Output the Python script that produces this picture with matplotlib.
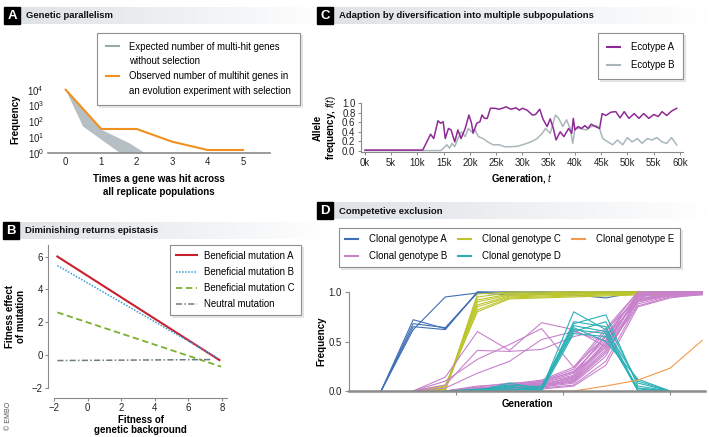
import numpy as np
import matplotlib
matplotlib.use("Agg")
import matplotlib.pyplot as plt
from matplotlib.colors import LinearSegmentedColormap
from matplotlib.lines import Line2D
from matplotlib.patches import Rectangle

plt.rcParams['font.family'] = ['Liberation Sans', 'DejaVu Sans']
plt.rcParams['mathtext.fontset'] = 'custom'
plt.rcParams['mathtext.rm'] = 'Liberation Sans'
plt.rcParams['mathtext.it'] = 'Liberation Sans:italic'
plt.rcParams['mathtext.bf'] = 'Liberation Sans:bold'

N = np.nan

# ---- panel A: genetic parallelism
hits = [0, 1, 2, 3, 4, 5]
observed = [1e4, 33, 33, 5.2, 1.55, 1.55]
# outline of the expected (no selection) band
expected_x = [0, 0.49, 1.53, 2.23, 1.81, 1.0, 0]
expected_y = [1e4, 47, 1, 1, 4, 30, 1e4]

# ---- panel B: diminishing returns epistasis
bg_A = [-1.8, 7.85]
mut_A = [6.0, -0.3]
bg_B = [-1.8, 7.7]
mut_B = [5.45, -0.15]
bg_C = [-1.8, 7.95]
mut_C = [2.6, -0.7]
bg_N = [-1.8, 7.4]
mut_N = [-0.33, -0.27]

# ---- panel C: ecotypes (generation in thousands)
ecoA_k = [0, 11, 12.5, 13.1, 13.9, 14.4, 14.9, 15.3, 15.9, 16.4, 17.1, 17.7,
          18.3, 19.1, 19.8, 20.3, 20.6, 21.3, 21.9, 22.3, 22.8, 23.3, 23.9,
          24.7, 25.6, 26.9, 27.8, 28.8, 29.4, 30.0, 30.9, 31.9, 32.5, 33.3,
          33.9, 34.7, 35.3, 35.9, 36.4, 37.2, 37.9, 38.8, 39.4, 39.7, 40.0,
          40.6, 41.3, 41.9, 42.5, 43.1, 43.9, 44.7, 45.2, 45.9, 46.9, 47.8,
          48.6, 49.4, 50.3, 51.3, 52.2, 53.1, 54.1, 55.0, 55.9, 56.6, 57.5,
          58.4, 59.4]
ecoA_f = [0.02, 0.02, 0.35, 0.26, 0.63, 0.58, 0.61, 0.26, 0.47, 0.44, 0.19,
          0.44, 0.26, 0.47, 0.75, 0.58, 0.37, 0.58, 0.61, 0.75, 0.68, 0.68,
          0.89, 0.89, 0.87, 0.92, 0.87, 0.90, 0.85, 0.89, 0.85, 0.75, 0.76,
          0.87, 0.67, 0.51, 0.67, 0.47, 0.23, 0.40, 0.30, 0.47, 0.37, 0.68,
          0.44, 0.51, 0.47, 0.53, 0.47, 0.56, 0.51, 0.47, 0.78, 0.74, 0.81,
          0.82, 0.69, 0.82, 0.68, 0.78, 0.68, 0.78, 0.68, 0.76, 0.72, 0.82,
          0.74, 0.83, 0.89]
ecoB_k = [0, 14.5, 15.6, 16.1, 16.6, 17.1, 17.7, 18.4, 19.1, 19.7, 20.3, 20.9,
          21.6, 22.5, 23.4, 24.4, 25.6, 26.6, 27.8, 29.1, 30.3, 31.6, 32.8,
          33.8, 34.4, 35.3, 36.3, 36.9, 37.7, 38.4, 39.1, 39.6, 40.0, 40.9,
          42.2, 43.1, 44.1, 44.7, 45.3, 46.3, 47.2, 48.1, 49.1, 50.0, 50.9,
          51.9, 52.8, 53.8, 54.7, 55.6, 56.6, 57.5, 58.4, 59.4]
ecoB_f = [0.01, 0.01, 0.13, 0.06, 0.16, 0.09, 0.26, 0.40, 0.30, 0.47, 0.40,
          0.45, 0.30, 0.26, 0.19, 0.13, 0.13, 0.09, 0.09, 0.10, 0.14, 0.19,
          0.26, 0.37, 0.47, 0.37, 0.75, 0.68, 0.51, 0.65, 0.47, 0.16, 0.47,
          0.47, 0.44, 0.51, 0.53, 0.47, 0.26, 0.19, 0.13, 0.23, 0.13, 0.28,
          0.19, 0.26, 0.16, 0.26, 0.23, 0.28, 0.19, 0.16, 0.28, 0.13]
gen_ticks = [0, 5, 10, 15, 20, 25, 30, 35, 40, 45, 50, 55, 60]

# ---- panel D: competitive exclusion (sampling points 1..11)
t_gen = [1, 2, 3, 4, 5, 6, 7, 8, 9, 10, 11]
geno_A = [
    [0, 0.72, 0.63, 1.0, 1.0, 0.99, 1.0, 1.0, 1.0, 1.0, 1.0],
    [0, 0.68, 0.64, 0.99, 1.0, 1.0, 0.99, 1.0, 1.0, 1.0, 1.0],
    [0, 0.65, 0.62, 1.0, 0.99, 1.0, 1.0, 0.99, 1.0, 1.0, 1.0],
    [0, 0.62, 0.95, 0.99, 0.97, 0.98, 0.97, 0.94, 1.0, 1.0, 1.0],
]
geno_B = [
    [N, 0, 0.14, 0.60, 0.41, 0.69, 0.62, 0.45, 0.96, 1.0, 1.0],
    [N, 0, 0.06, 0.41, 0.40, 0.42, 0.55, 0.62, 0.93, 0.98, 0.99],
    [N, 0, 0.10, 0.32, 0.47, 0.63, 0.24, 0.55, 0.90, 0.97, 1.0],
    [N, 0, 0.03, 0.18, 0.30, 0.52, 0.60, 0.50, 0.94, 0.96, 0.98],
    [N, N, 0, 0.01, 0.03, 0.05, 0.12, 0.45, 0.98, 1.0, 1.0],
    [N, N, 0, 0.02, 0.05, 0.08, 0.18, 0.55, 0.97, 0.99, 1.0],
    [N, N, 0, 0.00, 0.02, 0.04, 0.08, 0.35, 0.95, 1.0, 1.0],
    [N, N, 0, 0.03, 0.06, 0.10, 0.22, 0.60, 1.0, 1.0, 0.99],
    [N, N, 0, 0.01, 0.04, 0.06, 0.15, 0.50, 0.93, 0.98, 1.0],
    [N, N, 0, 0.02, 0.03, 0.07, 0.10, 0.40, 0.92, 0.97, 0.99],
    [N, N, 0, 0.04, 0.08, 0.09, 0.20, 0.52, 0.99, 1.0, 1.0],
    [N, N, 0, 0.01, 0.02, 0.03, 0.06, 0.30, 0.88, 0.96, 0.98],
    [N, N, 0, 0.02, 0.05, 0.06, 0.14, 0.47, 0.96, 0.99, 1.0],
    [N, N, 0, 0.03, 0.04, 0.05, 0.09, 0.38, 0.90, 0.97, 1.0],
    [N, N, 0, 0.05, 0.07, 0.11, 0.24, 0.63, 1.0, 1.0, 1.0],
    [N, N, 0, 0.01, 0.03, 0.04, 0.11, 0.42, 0.86, 0.95, 0.97],
    [N, N, 0, 0.02, 0.06, 0.08, 0.16, 0.57, 0.97, 1.0, 0.99],
    [N, N, 0, 0.00, 0.01, 0.02, 0.05, 0.26, 0.85, 0.94, 0.98],
    [N, N, 0, 0.03, 0.05, 0.07, 0.13, 0.49, 0.95, 0.99, 1.0],
    [N, N, 0, 0.02, 0.04, 0.10, 0.19, 0.44, 0.91, 0.98, 1.0],
]
geno_C = [
    [N, 0, 0.00, 0.98, 1.0, 1.0, 1.0, 1.0, 1.0, 1.0, 1.0],
    [N, 0, 0.01, 0.95, 0.99, 0.99, 1.0, 1.0, 1.0, 1.0, 1.0],
    [N, 0, 0.02, 0.92, 0.98, 0.98, 0.99, 0.99, 1.0, 0.99, 1.0],
    [N, 0, 0.03, 0.90, 0.97, 0.98, 0.98, 0.99, 0.99, 0.99, 1.0],
    [N, 0, 0.04, 0.87, 0.96, 0.97, 0.98, 0.98, 0.99, 0.98, 0.99],
    [N, 0, 0.05, 0.85, 0.95, 0.96, 0.97, 0.98, 0.98, 0.98, 0.99],
    [N, 0, 0.02, 0.82, 0.94, 0.95, 0.96, 0.97, 0.98, 0.97, 0.99],
    [N, 0, 0.06, 0.80, 0.93, 0.94, 0.95, 0.96, 0.97, 0.96, 0.98],
]
geno_D = [
    [N, N, 0, 0.00, 0.08, 0.02, 0.80, 0.62, 0.10, 0.0, N],
    [N, N, 0, 0.01, 0.05, 0.00, 0.68, 0.77, 0.05, 0.0, N],
    [N, N, 0, 0.00, 0.03, 0.05, 0.66, 0.60, 0.02, 0.0, N],
    [N, N, 0, 0.02, 0.02, 0.01, 0.62, 0.58, 0.00, 0.0, N],
    [N, N, 0, 0.00, 0.01, 0.03, 0.60, 0.70, 0.08, 0.0, N],
    [N, N, 0, 0.01, 0.00, 0.00, 0.58, 0.55, 0.03, 0.0, N],
    [N, N, 0, 0.00, 0.04, 0.02, 0.70, 0.65, 0.00, 0.0, N],
    [N, N, 0, 0.01, 0.06, 0.04, 0.64, 0.50, 0.12, 0.0, N],
]
geno_E = [
    [N, N, N, N, N, 0, 0, 0.05, 0.11, 0.23, 0.51],
]
geno_labels = ["Clonal genotype A", "Clonal genotype B", "Clonal genotype C",
               "Clonal genotype D", "Clonal genotype E"]
geno_colors = ["#3f6fb5", "#c882cc", "#bcc62c", "#2bb0b6", "#f29a4a"]

W, H = 709, 437
fig = plt.figure(figsize=(W / 100, H / 100), dpi=100)
SPINE = "#8a8a8a"
FS = 6.9


def px_axes(l, t, r, b):
    return fig.add_axes([l / W, 1 - b / H, (r - l) / W, (b - t) / H])


grad_cmap = LinearSegmentedColormap.from_list("bar", ["#dfe3e6", "#eef0f2", "#ffffff"])


def header(x0, y0, x1, letter, title):
    h = 17
    bar = px_axes(x0 + 16, y0, x1, y0 + h)
    bar.imshow(np.linspace(0, 1, 256)[None, :], aspect="auto", cmap=grad_cmap,
               extent=[0, 1, 0, 1])
    bar.axis("off")
    fig.patches.append(Rectangle((x0 / W, 1 - (y0 + h) / H), 16 / W, h / H,
                                 transform=fig.transFigure, color="black"))
    fig.text((x0 + 8) / W, 1 - (y0 + h / 2 + 0.5) / H, letter, color="white",
             fontsize=9.5, fontweight="bold", ha="center", va="center")
    fig.text((x0 + 22) / W, 1 - (y0 + h / 2 + 0.5) / H, title, fontsize=6.8,
             fontweight="bold", ha="left", va="center", color="#111111")


def style_spines(ax):
    for s in ax.spines.values():
        s.set_color(SPINE)
    ax.tick_params(colors=SPINE, labelcolor="#222222", labelsize=FS)


def add_legend(ax, handles, labels, x, y, **kw):
    opts = dict(loc="upper left", bbox_to_anchor=(x / W, 1 - y / H),
                bbox_transform=fig.transFigure, borderaxespad=0,
                fancybox=False, framealpha=1, fontsize=FS,
                handlelength=1.35, handletextpad=1.1,
                shadow={"ox": 1.5, "oy": -1.5, "color": "#d4d4d4"})
    opts.update(kw)
    leg = ax.legend(handles, labels, **opts)
    leg.get_frame().set_edgecolor("#8f8f8f")
    leg.get_frame().set_linewidth(0.8)
    return leg


# ============ A
header(4, 7, 330, "A", "Genetic parallelism")
axA = px_axes(48, 85, 270, 153)
axA.fill(expected_x, expected_y, color="#b5bfc4", lw=0)
axA.plot(hits, observed, color="#f0901f", lw=1.5)
axA.set_yscale("log")
axA.set_xlim(-0.5, 5.76)
axA.set_ylim(1, 10 ** 4.3)
axA.set_yticks([1, 10, 100, 1000, 10000])
axA.minorticks_off()
axA.set_xticks(hits)
style_spines(axA)
for s in ["left", "top", "right"]:
    axA.spines[s].set_visible(False)
axA.spines["bottom"].set_linewidth(1.2)
axA.tick_params(length=0, pad=3)
axA.set_ylabel("Frequency", fontsize=7, fontweight="bold", labelpad=5)
axA.set_xlabel("Times a gene was hit across\nall replicate populations",
               fontsize=7, fontweight="bold", labelpad=5, linespacing=1.35)
add_legend(axA,
           [Line2D([], [], color="#9aa7ad", lw=1.5), Line2D([], [], lw=0),
            Line2D([], [], color="#f0901f", lw=1.5), Line2D([], [], lw=0)],
           ["Expected number of multi-hit genes", "without selection",
            "Observed number of multihit genes in",
            "an evolution experiment with selection"],
           97, 33, labelspacing=0.5, borderpad=0.9)

# ============ B
header(3, 222, 330, "B", "Diminishing returns epistasis")
axB = px_axes(54, 245, 227, 388)
lA, = axB.plot(bg_A, mut_A, color="#c8202f", lw=1.5)
lB, = axB.plot(bg_B, mut_B, color="#3c9ad8", lw=1.1, ls=(0, (1, 1)))
lC, = axB.plot(bg_C, mut_C, color="#7ab030", lw=1.3, ls=(0, (3.5, 2)))
lN, = axB.plot(bg_N, mut_N, color="#6b7b80", lw=1.1, ls=(0, (4, 1.5, 1, 1.5)))
axB.set_xlim(-2, 8.3)
axB.set_ylim(-2, 6.7)
axB.set_xticks([-2, 0, 2, 4, 6, 8])
axB.set_xticklabels(["\u22122", "0", "2", "4", "6", "8"])
axB.set_yticks([-2, 0, 2, 4, 6])
axB.set_yticklabels(["\u22122", "0", "2", "4", "6"])
style_spines(axB)
axB.spines["top"].set_visible(False)
axB.spines["right"].set_visible(False)
axB.spines["left"].set_position(("outward", 4))
axB.spines["bottom"].set_position(("outward", 7))
axB.tick_params(length=2.5, width=0.8, pad=1.5)
axB.set_ylabel("Fitness effect\nof mutation", fontsize=7, fontweight="bold",
               labelpad=4, linespacing=1.15)
axB.set_xlabel("Fitness of\ngenetic background", fontsize=7,
               fontweight="bold", labelpad=1, linespacing=1.1)
add_legend(axB, [lA, lB, lC, lN],
           ["Beneficial mutation A", "Beneficial mutation B",
            "Beneficial mutation C", "Neutral mutation"],
           170, 245, labelspacing=0.65, borderpad=0.6, handlelength=2.2,
           handletextpad=0.8)
fig.text(8 / W, 1 - 416 / H, "\u00a9 EMBO", rotation=90, fontsize=5,
         color="#555555", ha="center", va="center")

# ============ C
header(317, 7, 709, "C", "Adaption by diversification into multiple subpopulations")
axC = px_axes(361, 103, 683, 152)
axC.plot(ecoB_k, ecoB_f, color="#a9b7bb", lw=1.1)
axC.plot(ecoA_k, ecoA_f, color="#8e2a95", lw=1.1)
axC.set_xlim(-0.76, 60.6)
axC.set_ylim(-0.02, 1.0)
axC.set_xticks(gen_ticks)
axC.set_xticklabels([f"{g}k" for g in gen_ticks])
axC.set_yticks([0, 0.2, 0.4, 0.6, 0.8, 1.0])
axC.set_yticklabels(["0.0", "0.2", "0.4", "0.6", "0.8", "1.0"])
style_spines(axC)
axC.spines["top"].set_visible(False)
axC.spines["right"].set_visible(False)
axC.tick_params(length=2.5, width=0.7, pad=1.5)
axC.set_ylabel("Allele\nfrequency, $f(t)$", fontsize=7, fontweight="bold",
               labelpad=3, linespacing=1.1)
axC.set_xlabel("Generation, $t$", fontsize=7, fontweight="bold", labelpad=3)
add_legend(axC,
           [Line2D([], [], color="#8e2a95", lw=1.5),
            Line2D([], [], color="#a9b7bb", lw=1.5)],
           ["Ecotype A", "Ecotype B"], 598, 33, labelspacing=0.85,
           borderpad=0.95)

# ============ D
header(317, 202, 709, "D", "Competetive exclusion")
axD = px_axes(349, 292, 705, 391)
for lines, col in zip([geno_A, geno_C, geno_B, geno_D, geno_E],
                      [geno_colors[0], geno_colors[2], geno_colors[1],
                       geno_colors[3], geno_colors[4]]):
    for vals in lines:
        axD.plot(t_gen, vals, color=col, lw=0.8, clip_on=False)
axD.set_xlim(0, 11.09)
axD.set_ylim(0, 1)
axD.set_xticks([10 / 3, 20 / 3, 10])
axD.set_xticklabels([])
axD.set_yticks([0, 0.5, 1.0])
axD.set_yticklabels(["0.0", "0.5", "1.0"])
style_spines(axD)
axD.spines["top"].set_visible(False)
axD.spines["right"].set_visible(False)
axD.spines["bottom"].set_linewidth(1.8)
axD.spines["left"].set_linewidth(0.8)
axD.tick_params(length=3, width=0.8, pad=2)
axD.set_ylabel("Frequency", fontsize=7, fontweight="bold", labelpad=2)
axD.set_xlabel("Generation", fontsize=7, fontweight="bold", labelpad=1)
add_legend(axD, [Line2D([], [], color=c, lw=1.5) for c in geno_colors],
           geno_labels, 339, 228, ncol=3, labelspacing=0.7, borderpad=0.65,
           columnspacing=1.2)

fig.savefig("out.png", dpi=100)
